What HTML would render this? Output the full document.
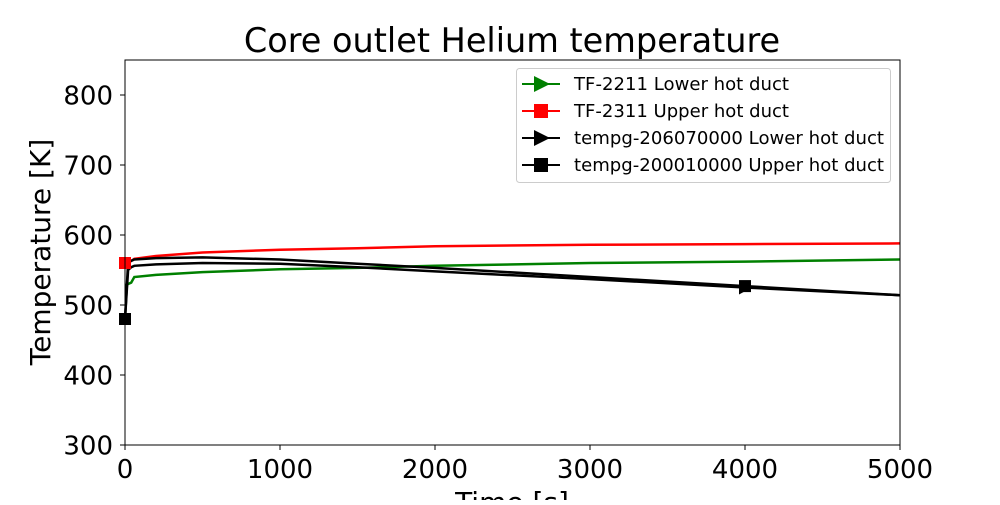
<!DOCTYPE html>
<html><head><meta charset="utf-8"><style>
body{margin:0;background:#fff;}
svg text{font-family:"DejaVu Sans","Liberation Sans",sans-serif;}
</style></head><body>
<svg id="chart" width="1000" height="500" xmlns="http://www.w3.org/2000/svg">
<rect width="1000" height="500" fill="#fff"/>
<text x="512" y="52" font-size="33.5" text-anchor="middle">Core outlet Helium temperature</text>
<g id="plot"></g>
<g id="axes"></g>
<g id="legend"></g>
</svg>
<script>
const times = [0, 20, 40, 60, 200, 500, 1000, 1500, 2000, 3000, 4000, 5000];
const tfLower = [528, 530, 532, 540, 543, 547, 551, 553, 556, 560, 562, 565];
const tfUpper = [560, 561, 563, 566, 570, 575, 579, 581, 584, 586, 587, 588];
const simLower = [480, 550, 554, 556, 558, 560, 559, 554, 548, 537, 525, 514];
const simUpper = [480, 560, 563, 565, 567, 568, 565, 559, 553, 540, 527, 514];
const xTicks = [0, 1000, 2000, 3000, 4000, 5000];
const yTicks = [300, 400, 500, 600, 700, 800];
const legendLabels = ["TF-2211 Lower hot duct","TF-2311 Upper hot duct","tempg-206070000 Lower hot duct","tempg-200010000 Upper hot duct"];

const NS="http://www.w3.org/2000/svg";
const X0=125,X1=900,Y0=445,Y1=60;
const xs=t=>X0+(t/5000)*(X1-X0);
const ys=v=>Y0-(v-300)/(850-300)*(Y0-Y1);
function mk(tag,attrs,parent){const e=document.createElementNS(NS,tag);for(const k in attrs)e.setAttribute(k,attrs[k]);parent.appendChild(e);return e;}
const plot=document.getElementById('plot'),axes=document.getElementById('axes'),leg=document.getElementById('legend');

function line(vals,color,name){
  const p=mk('polyline',{points:times.map((t,i)=>xs(t)+','+ys(vals[i])).join(' '),fill:'none',stroke:color,'stroke-width':2.5},plot);
  
  
}
line(tfLower,'#008000','series-tf-2211');
line(tfUpper,'#ff0000','series-tf-2311');
line(simLower,'#000','series-tempg-206070000');
line(simUpper,'#000','series-tempg-200010000');
function sq(t,v,color,name){const r=mk('rect',{x:xs(t)-6,y:ys(v)-6,width:12,height:12,fill:color},plot);}
function tri(t,v,color,name){const x=xs(t),y=ys(v);const r=mk('polygon',{points:`${x-6},${y-7} ${x+7},${y} ${x-6},${y+7}`,fill:color},plot);}
sq(times[0],tfUpper[0],'#ff0000','marker-tf-2311');
sq(times[0],simUpper[0],'#000','marker-tempg-upper-start');
tri(times[10],simLower[10],'#000','marker-tempg-lower');
sq(times[10],simUpper[10],'#000','marker-tempg-upper');

mk('rect',{x:X0,y:Y1,width:X1-X0,height:Y0-Y1,fill:'none',stroke:'#000','stroke-width':1},axes);
xTicks.forEach(t=>{
  mk('line',{x1:xs(t),x2:xs(t),y1:Y0,y2:Y0+5,stroke:'#000'},axes);
  const tx=mk('text',{x:xs(t),y:Y0+33,'font-size':26,'text-anchor':'middle'},axes);tx.textContent=t;
  
});
yTicks.forEach(v=>{
  mk('line',{x1:X0-5,x2:X0,y1:ys(v),y2:ys(v),stroke:'#000'},axes);
  const tx=mk('text',{x:X0-12,y:ys(v)+9.5,'font-size':26,'text-anchor':'end'},axes);tx.textContent=v;
  
});
const xt=mk('text',{x:512,y:512,'font-size':28,'text-anchor':'middle'},axes);xt.textContent='Time [s]';

const yt=mk('text',{x:0,y:0,'font-size':28,'text-anchor':'middle',transform:'translate(50,252) rotate(-90)'},axes);yt.textContent='Temperature [K]';


mk('rect',{x:516.5,y:68.5,width:374,height:114,rx:3,fill:'#fff',stroke:'#ccc'},leg);
const colors=['#008000','#ff0000','#000','#000'],shapes=['tri','sq','tri','sq'];
legendLabels.forEach((l,i)=>{
  const y=84+i*27;
  mk('line',{x1:522,x2:560,y1:y,y2:y,stroke:colors[i],'stroke-width':2},leg);
  if(shapes[i]==='sq')mk('rect',{x:534,y:y-7,width:14,height:14,fill:colors[i]},leg);
  else mk('polygon',{points:`${534},${y-8} ${550},${y} ${534},${y+8}`,fill:colors[i]},leg);
  const tx=mk('text',{x:574,y:y+6,'font-size':17.5,textLength:l.length>25?310:215,lengthAdjust:'spacingAndGlyphs'},leg);tx.textContent=l;
  
});
</script>
</body></html>
